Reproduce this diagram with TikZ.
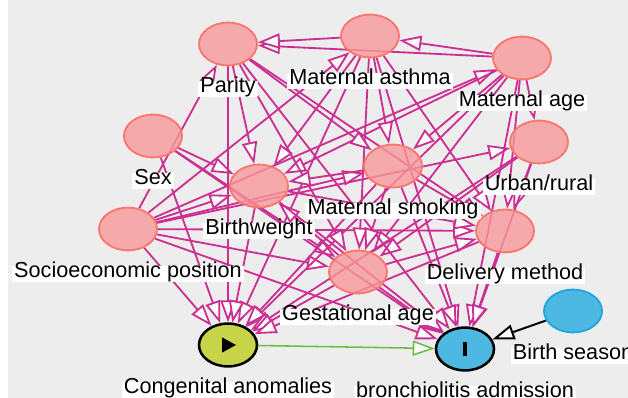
\documentclass[tikz,border=0pt]{standalone}
\usepackage{fontspec}
\setmainfont{Liberation Sans}
\usepackage{xcolor}
\definecolor{canvas}{HTML}{EDEDED}
\definecolor{covFill}{HTML}{F7999A}
\definecolor{covRim}{HTML}{FA766E}
\definecolor{arcPink}{HTML}{CC2F92}
\definecolor{expoFill}{HTML}{C8D448}
\definecolor{outFill}{HTML}{4DB8E2}
\definecolor{outRim}{HTML}{1EA6DE}
\definecolor{causalGreen}{HTML}{6CBD45}
\usepackage{tikz}
\usetikzlibrary{arrows.meta, positioning, shapes.geometric}

\pgfdeclarelayer{back}
\pgfdeclarelayer{wires}
\pgfsetlayers{back,wires,main}

\begin{document}
\begin{tikzpicture}[
        x=0.025cm, y=-0.025cm,
        var/.style={ellipse, draw=covRim, line width=1.3pt, fill=covFill, fill opacity=0.8, minimum width=1.45cm, minimum height=1.07cm, inner sep=0pt},
        expo/.style={var, draw=black, line width=1.8pt, fill=expoFill, fill opacity=1},
        outc/.style={var, draw=black, line width=1.8pt, fill=outFill, fill opacity=1},
        anc/.style={var, draw=outRim, fill=outFill, fill opacity=1},
        lbl/.style={fill=white, inner xsep=1.5pt, inner ysep=0.8pt, text height=0.74em, text depth=0.22em, font=\fontsize{15.4}{17}\selectfont, below=0.36cm of #1},
        arc/.style={draw=arcPink, line width=1.3pt, -{Triangle[length=5.5mm, width=3.8mm, fill=white]}},
        causal/.style={arc, draw=causalGreen, line width=1.1pt},
        plain/.style={arc, draw=black, line width=1.4pt}
    ]
        \useasboundingbox (0,0) rectangle (628,398);
        \clip (0,0) rectangle (628,398);

        % Covariates
        \node[var] (parity) at (228,44) {};
        \node[var] (asthma) at (370,36) {};
        \node[var] (mage)   at (522,58) {};
        \node[var] (urban)  at (539,142) {};
        \node[var] (sex)    at (153,136) {};
        \node[var] (bw)     at (259,186) {};
        \node[var] (smoke)  at (393,166) {};
        \node[var] (sep)    at (128,229) {};
        \node[var] (deliv)  at (505,231) {};
        \node[var] (gest)   at (358,272) {};

        % Exposure, outcome and the outcome's other cause
        \node[expo, path picture={\fill[black] ([xshift=-0.15cm, yshift=0.19cm]path picture bounding box.center) -- ++(0,-0.38cm) -- ++(0.35cm,0.19cm) -- cycle;}] (cong) at (228,345) {};
        \node[outc, path picture={\fill[black] ([xshift=-0.05cm, yshift=-0.165cm]path picture bounding box.center) rectangle ++(0.1cm,0.33cm);}] (bronch) at (465,349) {};
        \node[anc] (season) at (573,311) {};

        % Labels
        \node[lbl=parity] (parity-l) {Parity};
        \node[lbl=asthma] (asthma-l) {Maternal asthma};
        \node[lbl=mage]   (mage-l)   {Maternal age};
        \node[lbl=urban]  (urban-l)  {Urban/rural};
        \node[lbl=sex]    (sex-l)    {Sex};
        \node[lbl=bw]     (bw-l)     {Birthweight};
        \node[lbl=smoke]  (smoke-l)  {Maternal smoking};
        \node[lbl=sep]    (sep-l)    {Socioeconomic position};
        \node[lbl=deliv]  (deliv-l)  {Delivery method};
        \node[lbl=gest]   (gest-l)   {Gestational age};
        \node[lbl=cong]   (cong-l)   {Congenital anomalies};
        \node[lbl=bronch] (bronch-l) {bronchiolitis admission};
        \node[lbl=season] (season-l) {Birth season};

        \begin{pgfonlayer}{back}
            \fill[white] (0,0) rectangle (628,398);
            \fill[canvas] (8,0) rectangle (628,398);
        \end{pgfonlayer}

        \begin{pgfonlayer}{wires}
            % Confounding arcs
            \foreach \a/\b in {sex/bw, sex/gest, sex/cong, sex/bronch,
                    sep/mage, sep/urban, sep/asthma, sep/parity, sep/smoke, sep/bw, sep/gest, sep/deliv, sep/cong, sep/bronch,
                    mage/asthma, mage/parity, mage/urban, mage/smoke, mage/bw, mage/gest, mage/deliv, mage/cong, mage/bronch,
                    urban/gest, urban/deliv, urban/cong, urban/bronch,
                    asthma/parity, asthma/smoke, asthma/bw, asthma/gest, asthma/deliv, asthma/cong, asthma/bronch,
                    parity/smoke, parity/bw, parity/gest, parity/deliv, parity/cong, parity/bronch,
                    smoke/bw, smoke/gest, smoke/deliv, smoke/cong, smoke/bronch,
                    gest/bw, gest/deliv, gest/cong, gest/bronch,
                    bw/deliv, bw/cong, bw/bronch,
                    deliv/cong, deliv/bronch}
                \draw[arc] (\a) -- (\b);

            % Causal path and season
            \draw[causal] (cong) -- (bronch);
            \draw[plain] (season) -- (bronch);
        \end{pgfonlayer}
    \end{tikzpicture}
\end{document}
